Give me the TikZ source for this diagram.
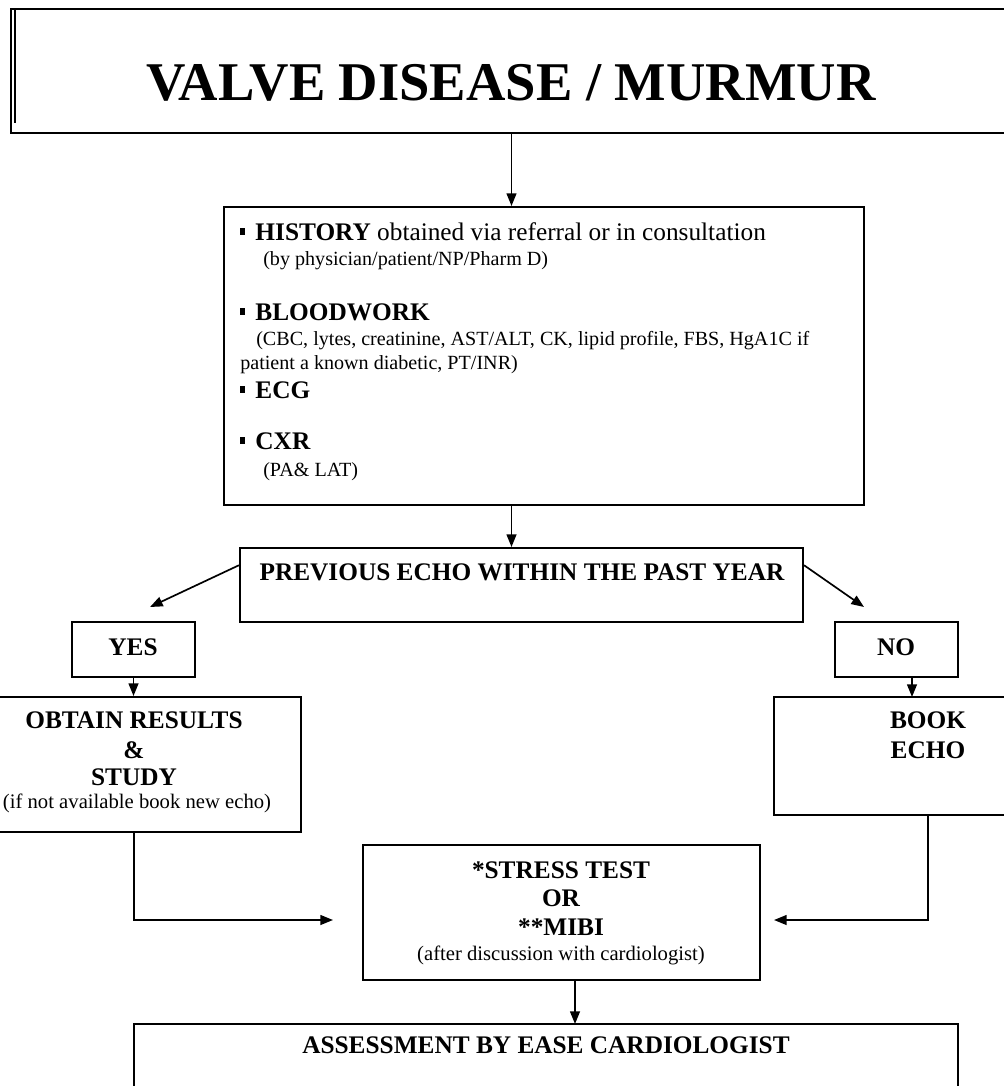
\documentclass[tikz,border=0pt]{standalone}
\usepackage{fontspec}
\setmainfont{Liberation Serif}
\usetikzlibrary{arrows.meta}
\tikzstyle{box} = [rectangle, draw, inner sep=0pt, line width=1.4pt]
\tikzstyle{link} = [-{Triangle[length=9pt,width=7pt]}, draw, line width=1.2pt]
\newcommand{\sqdot}{\rule[0.2em]{0.2em}{0.26em}}

\begin{document}
\begin{tikzpicture}[x=0.025cm, y=-0.025cm]
        \tikzstyle{head} = [font=\fontsize{18}{20}\selectfont\bfseries, anchor=base, inner sep=0pt]
        \tikzstyle{note} = [font=\fontsize{14.7}{17}\selectfont, anchor=base, inner sep=0pt]
        \tikzstyle{item} = [font=\fontsize{18}{20}\selectfont, anchor=base west, inner sep=0pt]
        \tikzstyle{subitem} = [font=\fontsize{14.3}{16}\selectfont, anchor=base west, inner sep=0pt]
        \useasboundingbox (0,0) rectangle (1004,1086);

        % title
        \node[box, minimum width=25.025cm, minimum height=3.1cm] (title) at (511.5,71) {};
        \draw[line width=0.8pt] (15,9) -- (15,123);
        \node[anchor=base, inner sep=0pt, font=\fontsize{38.8}{42}\selectfont\bfseries] (titletext) at (511,100) {VALVE DISEASE / MURMUR};

        % history box
        \node[box, minimum width=16cm, minimum height=7.45cm] (hist) at (544,356) {};
        \node[item] (history) at (240,240) {\sqdot\hspace{0.4em}\textbf{HISTORY} obtained via referral or in consultation};
        \node[subitem] (histnote) at (263,265) {(by physician/patient/NP/Pharm D)};
        \node[item] (blood) at (240,320) {\sqdot\hspace{0.4em}\textbf{BLOODWORK}};
        \node[subitem] (bloodnote) at (256,345) {(CBC, lytes, creatinine, AST/ALT, CK, lipid profile, FBS, HgA1C if};
        \node[subitem] (bloodnote2) at (240,369) {patient a known diabetic, PT/INR)};
        \node[item] (ecg) at (240,398) {\sqdot\hspace{0.4em}\textbf{ECG}};
        \node[item] (cxr) at (240,449) {\sqdot\hspace{0.4em}\textbf{CXR}};
        \node[subitem] (cxrnote) at (263,476) {(PA\& LAT)};

        \node[box, minimum width=14.075cm, minimum height=1.85cm] (prev) at (521.5,585) {};
        \node[head] (prevtext) at (522,580) {PREVIOUS ECHO WITHIN THE PAST YEAR};

        \node[box, minimum width=3.075cm, minimum height=1.375cm] (yes) at (133.5,649.5) {};
        \node[head] (yestext) at (133,655) {YES};
        \node[box, minimum width=3.075cm, minimum height=1.375cm] (no) at (896.5,649.5) {};
        \node[head] (notext) at (896,655) {NO};

        \node[box, minimum width=8.35cm, minimum height=3.375cm] (obtain) at (134,764.5) {};
        \node[head] (obtain1) at (134,728) {OBTAIN RESULTS};
        \node[head] (obtain2) at (134,758) {\&};
        \node[head] (obtain3) at (134,785) {STUDY};
        \node[note] (obtain4) at (137,808) {(if not available book new echo)};

        \node[box, minimum width=7.7cm, minimum height=2.95cm] (book) at (928,756) {};
        \node[head] (book1) at (928,728) {BOOK};
        \node[head] (book2) at (928,758) {ECHO};

        \node[box, minimum width=9.925cm, minimum height=3.375cm] (stress) at (561.5,912.5) {};
        \node[head] (stress1) at (561,878) {*STRESS TEST};
        \node[head] (stress2) at (561,906) {OR};
        \node[head] (stress3) at (561,935) {**MIBI};
        \node[note] (stress4) at (561,960) {(after discussion with cardiologist)};

        \node[box, minimum width=20.6cm, minimum height=2.15cm] (assess) at (546,1067) {};
        \node[head] (assesstext) at (546,1053) {ASSESSMENT BY EASE CARDIOLOGIST};

        % free ends
        \coordinate (yesin) at (150,607);
        \coordinate (noin) at (864,607);
        \coordinate (bookin) at (912,697);
        \coordinate (stressl) at (333,920);
        \coordinate (stressr) at (774,920);
        \coordinate (assessin) at (575,1024);

        \draw[link] (title.south) -- (title.south |- hist.north);
        \draw[link] (title.south |- hist.south) -- (title.south |- prev.north);
        \draw[link] (prev.176) -- (yesin);
        \draw[link] (prev.4) -- (noin);
        \draw[link] (yes.south) -- (yes.south |- obtain.north);
        \draw[link] (no.south -| bookin) -- (bookin);
        \draw[link] (obtain.south) |- (stressl);
        \draw[link] (book.south) |- (stressr);
        \draw[link] (stress.south -| assessin) -- (assessin);
\end{tikzpicture}
\end{document}
